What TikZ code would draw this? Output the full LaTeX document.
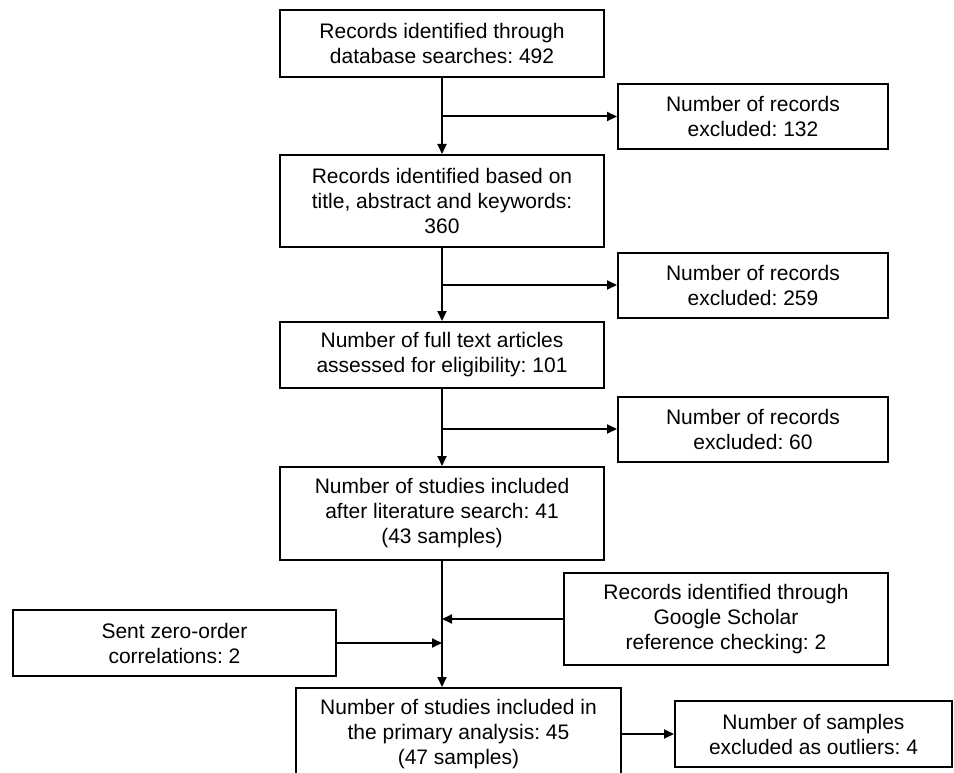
\documentclass[tikz,border=0pt]{standalone}
\usepackage{fontspec}
\setmainfont{Liberation Sans}
\usepackage{tikz}
\usetikzlibrary{arrows.meta, positioning}
\frenchspacing

\begin{document}
\begin{tikzpicture}[x=1pt, y=-1pt,
  box/.style={draw, line width=2pt, align=center, inner sep=0pt,
    font=\fontsize{21}{25}\selectfont},
  mainbox/.style={box, minimum width=324pt},
  sidebox/.style={box, minimum width=270pt, minimum height=65pt},
  flow/.style={line width=2pt, -{Triangle[length=10pt,width=9pt]}}
]
\useasboundingbox (0,0) rectangle (954,773);
\clip (0,0) rectangle (954,773);

% Main column
\node[mainbox, minimum height=67pt] (records) at (442,43.5)
  {Records identified through\\database searches: 492};
\node[mainbox, minimum height=92pt] (screened) at (442,201)
  {Records identified based on\\title, abstract and keywords:\\360};
\node[mainbox, minimum height=66pt] (fulltext) at (442,355)
  {Number of full text articles\\assessed for eligibility: 101};
\node[mainbox, minimum height=93pt] (included) at (442,513.5)
  {Number of studies included\\after literature search: 41\\(43 samples)};
\node[mainbox, minimum width=325pt, minimum height=92pt] (primary) at (458.5,734)
  {Number of studies included in\\the primary analysis: 45\\(47 samples)};

% Exclusions
\node[sidebox] (excl1) at (753,116.5) {Number of records\\excluded: 132};
\node[sidebox] (excl2) at (753,285) {Number of records\\excluded: 259};
\node[sidebox] (excl3) at (753,429) {Number of records\\excluded: 60};
\node[box, minimum width=277pt, minimum height=66pt] (outliers) at (813.5,734)
  {Number of samples\\excluded as outliers: 4};

% Additional sources
\node[box, minimum width=324pt, minimum height=92pt] (google) at (726,619)
  {Records identified through\\Google Scholar\\reference checking: 2};
\node[box, minimum width=323pt, minimum height=66pt] (sent) at (174.5,643)
  {Sent zero-order\\correlations: 2};

% Connectors
\draw[flow] (records) -- (screened);
\draw[flow] (records.south |- excl1.west) -- (excl1.west);
\draw[flow] (screened) -- (fulltext);
\draw[flow] (screened.south |- excl2.west) -- (excl2.west);
\draw[flow] (fulltext) -- (included);
\draw[flow] (fulltext.south |- excl3.west) -- (excl3.west);
\draw[flow] (included.south) -- (included.south |- primary.north);
\draw[flow] (google.west) -- (google.west -| included.south);
\draw[flow] (sent.east) -- (sent.east -| included.south);
\draw[flow] (primary.east) -- (outliers.west);
\end{tikzpicture}
\end{document}
